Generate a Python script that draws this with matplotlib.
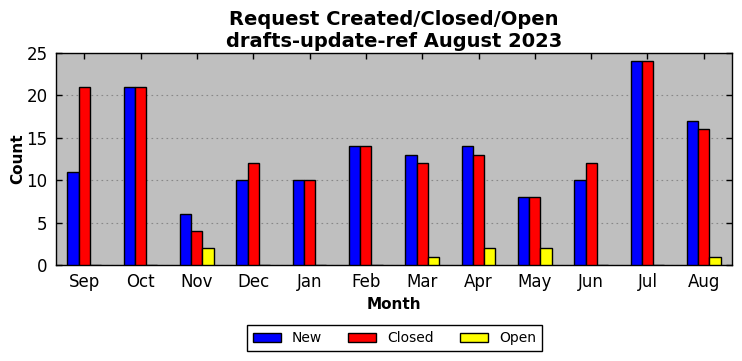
import matplotlib
matplotlib.use("Agg")
import matplotlib.pyplot as plt
import numpy as np

months = ["Sep", "Oct", "Nov", "Dec", "Jan", "Feb", "Mar", "Apr", "May", "Jun", "Jul", "Aug"]
new = [11, 21, 6, 10, 10, 14, 13, 14, 8, 10, 24, 17]
closed = [21, 21, 4, 12, 10, 14, 12, 13, 8, 12, 24, 16]
open_ = [0, 0, 2, 0, 0, 0, 1, 2, 2, 0, 0, 1]

fig = plt.figure(figsize=(7.42, 3.61), dpi=100)
ax = fig.add_axes([56/742, 1-265/361, (732-56)/742, (265-53)/361])
ax.set_facecolor("#bfbfbf")
x = np.arange(len(months))
w = 0.2
ax.bar(x - w, new, w, color="blue", edgecolor="black", linewidth=1, label="New", zorder=3)
ax.bar(x, closed, w, color="red", edgecolor="black", linewidth=1, label="Closed", zorder=3)
ax.bar(x + w, open_, w, color="yellow", edgecolor="black", linewidth=1, label="Open", zorder=3)
ax.set_xlim(-0.5, len(months) - 0.5)
ax.set_ylim(0, 25)
ax.set_yticks([0, 5, 10, 15, 20, 25])
ax.set_xticks(x)
ax.set_xticklabels(months, fontsize=12)
ax.tick_params(axis="y", labelsize=12)
ax.tick_params(direction="in", top=True, right=True, length=4, width=1, pad=6)
ax.yaxis.grid(True, linestyle=(0, (1.5, 3)), color="#888888", linewidth=0.8, zorder=0)
ax.set_axisbelow(True)
for s in ax.spines.values():
    s.set_linewidth(1)
ax.set_xlabel("Month", fontsize=11, fontweight="bold")
ax.set_ylabel("Count", fontsize=11, fontweight="bold", labelpad=1)
ax.set_title("Request Created/Closed/Open\ndrafts-update-ref August 2023", fontsize=14, fontweight="bold", pad=4)
leg = fig.legend(loc="center", bbox_to_anchor=(394.5/742, 1-338/361), ncol=3, fontsize=10,
                 frameon=True, fancybox=False, edgecolor="black", framealpha=1,
                 handlelength=2.0, handleheight=0.6, columnspacing=1.9, borderpad=0.4)
leg.get_frame().set_linewidth(1)
fig.savefig("out.png", dpi=100)
